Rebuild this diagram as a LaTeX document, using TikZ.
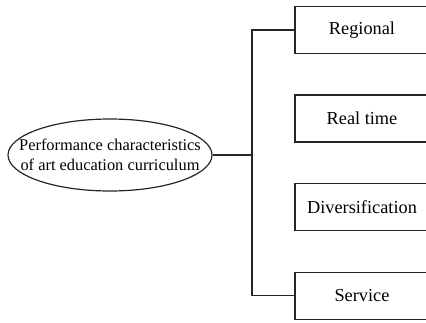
\documentclass[tikz,border=0pt]{standalone}
\usepackage{fontspec}
\setmainfont{Liberation Serif}
\usetikzlibrary{shapes.geometric}
\begin{document}
\begin{tikzpicture}[x=1pt,y=1pt,
  line width=1.2pt, draw=black!85,
  feature/.style={draw, fill=white, minimum width=134pt, minimum height=47pt,
    inner sep=0pt, font=\fontsize{18.3}{22}\selectfont},
  topic/.style={draw, ellipse, minimum width=204pt, minimum height=72pt,
    inner sep=0pt},
  topictext/.style={align=center, inner sep=0pt, font=\fontsize{16.4}{20}\selectfont},
  link/.style={draw, line width=1.2pt}]
\useasboundingbox (0,0) rectangle (426,322);
\begin{scope}
\clip (0,0) rectangle (426,322);
% central topic: fixed-size ellipse with its label set on top
\node[topic] (main) at (110,167) {};
\node[topictext] (maintext) at (main.center) {Performance characteristics\\of art education curriculum};
% features
\node[feature] (f1) at (362,292) {Regional};
\node[feature] (f2) at (362,203.5) {Real time};
\node[feature] (f3) at (362,115) {Diversification};
\node[feature] (f4) at (362,26.3) {Service};
% bus
\coordinate (bus) at (252,167);
\draw[link] (main.east) -- (bus);
\draw[link] (f1.west) -| (bus) |- (f4.west);
\end{scope}
\end{tikzpicture}
\end{document}
